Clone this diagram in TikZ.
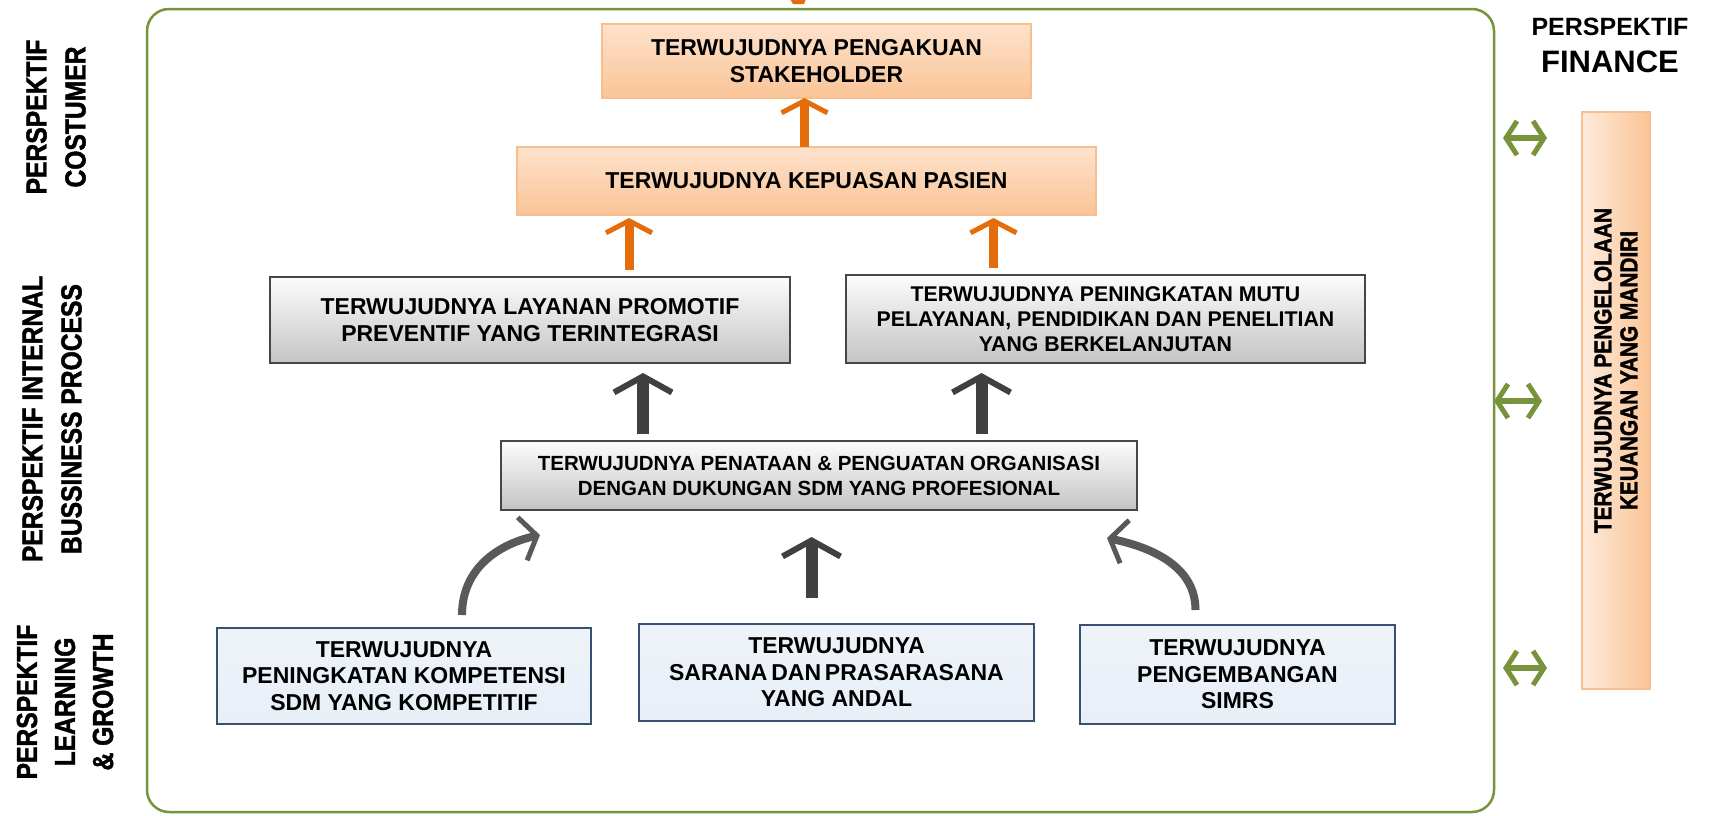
\documentclass[tikz,border=0pt]{standalone}
\usepackage{fontspec}
\setmainfont{Liberation Sans}
\newfontfamily\narrowfont[FakeStretch=0.85,FakeBold=1.6]{Liberation Sans Bold}
\usetikzlibrary{arrows.meta,calc}

\definecolor{frameGreen}{RGB}{119,147,60}
\definecolor{arrowOrange}{RGB}{228,108,10}
\definecolor{arrowDark}{RGB}{64,64,64}
\definecolor{arrowGrey}{RGB}{89,89,89}
\definecolor{orangeTop}{RGB}{253,226,204}
\definecolor{orangeBot}{RGB}{250,196,150}
\definecolor{orangeLine}{RGB}{247,190,142}
\definecolor{greyTop}{RGB}{252,252,252}
\definecolor{greyMid}{RGB}{238,238,238}
\definecolor{greyBot}{RGB}{196,196,196}
\definecolor{greyLine}{RGB}{70,70,70}
\definecolor{blueTop}{RGB}{238,243,249}
\definecolor{blueMid}{RGB}{220,230,242}
\definecolor{blueBot}{RGB}{232,239,247}
\definecolor{blueLine}{RGB}{56,80,115}

\begin{document}
\begin{tikzpicture}[x=1pt,y=-1pt,inner sep=0pt,outer sep=0pt,
orangebox/.style={draw=orangeLine,line width=1.2pt,top color=orangeTop,bottom color=orangeBot,align=center,font=\bfseries\fontsize{23}{27}\selectfont},
greybox/.style={draw=greyLine,line width=1.3pt,top color=greyTop,middle color=greyMid,bottom color=greyBot,align=center},
bluebox/.style={draw=blueLine,line width=1.3pt,top color=blueTop,middle color=blueMid,bottom color=blueBot,align=center,font=\bfseries\fontsize{23}{26.5}\selectfont},
sidelabel/.style={rotate=90,align=center,font=\narrowfont\fontsize{29}{39}\selectfont},
orangeup/.style={draw=arrowOrange,line width=9pt,-{Straight Barb[length=12pt,width=46pt,line width=5pt]}},
darkup/.style={draw=arrowDark,line width=12pt,-{Straight Barb[length=16pt,width=58pt,line width=6pt]}},
curvedup/.style={draw=arrowGrey,line width=8pt,-{Straight Barb[length=15pt,width=44pt,line width=5pt]}},
greenlink/.style={draw=frameGreen,line width=6pt,{Straight Barb[length=11pt,width=34pt,line width=5pt]}-{Straight Barb[length=11pt,width=34pt,line width=5pt]}}]
\useasboundingbox (0,0) rectangle (1710,815);

% frame and finance column
\draw (820.5,410.5) node[draw=frameGreen,line width=2.5pt,rounded corners=22pt,minimum width=1347,minimum height=803] (frame) {};
\draw (1616,400.5) node[draw=orangeLine,line width=1.2pt,left color=orangeTop!70!white,right color=orangeBot,minimum width=68,minimum height=577] (finance) {};
\draw ($(finance.center)+(0,-30)$) node[rotate=90,align=center,font=\narrowfont\fontsize{24.5}{26}\selectfont] (fintext) {TERWUJUDNYA PENGELOLAAN\\KEUANGAN YANG MANDIRI};
\draw (1610,45) node[align=center,font=\bfseries\fontsize{25}{37}\selectfont] (fintitle) {PERSPEKTIF\\\fontsize{31}{37}\selectfont FINANCE};

% perspective labels
\draw (56,117) node[sidelabel] (costumer) {PERSPEKTIF\\COSTUMER};
\draw (52,419) node[sidelabel] (internal) {PERSPEKTIF INTERNAL\\BUSSINESS PROCESS};
\draw (65,702) node[sidelabel,font=\narrowfont\fontsize{29}{38}\selectfont] (learning) {PERSPEKTIF\\LEARNING\\\& GROWTH};

% objectives
\draw (816.5,61) node[orangebox,minimum width=429,minimum height=74] (stake) {TERWUJUDNYA PENGAKUAN\\STAKEHOLDER};
\draw (806.5,181) node[orangebox,minimum width=579,minimum height=68] (puas) {TERWUJUDNYA KEPUASAN PASIEN};
\draw (530,320) node[greybox,minimum width=520,minimum height=86,font=\bfseries\fontsize{23}{27}\selectfont] (layanan) {TERWUJUDNYA LAYANAN PROMOTIF\\PREVENTIF YANG TERINTEGRASI};
\draw (1105.5,319) node[greybox,minimum width=519,minimum height=88,font=\bfseries\fontsize{21.3}{25}\selectfont] (mutu) {TERWUJUDNYA PENINGKATAN MUTU\\PELAYANAN, PENDIDIKAN DAN PENELITIAN\\YANG BERKELANJUTAN};
\draw (819,475.5) node[greybox,minimum width=636,minimum height=69,font=\bfseries\fontsize{20.5}{25}\selectfont] (tata) {TERWUJUDNYA PENATAAN \& PENGUATAN ORGANISASI\\DENGAN DUKUNGAN SDM YANG PROFESIONAL};
\draw (404,676) node[bluebox,minimum width=374,minimum height=96] (komp) {TERWUJUDNYA\\PENINGKATAN KOMPETENSI\\SDM YANG KOMPETITIF};
\draw (836.5,672.5) node[bluebox,minimum width=395,minimum height=97] (sarana) {TERWUJUDNYA\\SARANA\,DAN\,PRASARASANA\\YANG ANDAL};
\draw (1237.5,674.5) node[bluebox,minimum width=315,minimum height=99] (simrs) {TERWUJUDNYA\\PENGEMBANGAN\\SIMRS};

% arrow ends
\coordinate (stakein) at ($(stake.south)+(-12,0)$);
\coordinate (layout) at ($(layanan.north)+(99,-7)$);
\coordinate (mutuout) at ($(mutu.north)+(-112,-7)$);
\coordinate (layin) at ($(layanan.south)+(113,10)$);
\coordinate (mutuin) at ($(mutu.south)+(-124,10)$);
\coordinate (saraout) at ($(sarana.north)+(-25,-26)$);
\coordinate (kompout) at ($(komp.north)+(58,-13)$);
\coordinate (simrsout) at ($(simrs.north)+(-42,-15)$);

% arrows
\fill[arrowOrange] (790,-1) -- (806,-1) -- (804,4) -- (793,4) -- cycle;
\draw[orangeup] (stakein |- puas.north) -- (stakein);
\draw[orangeup] (layout) -- ($(layout |- puas.south)+(0,3)$);
\draw[orangeup] (mutuout) -- ($(mutuout |- puas.south)+(0,3)$);
\draw[darkup] ($(layin |- tata.north)+(0,-7)$) -- (layin);
\draw[darkup] ($(mutuin |- tata.north)+(0,-7)$) -- (mutuin);
\draw[darkup] (saraout) -- ($(saraout |- tata.south)+(0,27)$);
\draw[curvedup] (kompout) .. controls ($(kompout)+(0,-47)$) and ($(tata.south west)+(-2,34)$) .. ($(tata.south west)+(39,25)$);
\draw[curvedup] (simrsout) .. controls ($(simrsout)+(0,-47)$) and ($(tata.south east)+(8,36)$) .. ($(tata.south east)+(-30,28)$);

% links to finance
\draw[greenlink] ($(frame.east |- 0,138)+(9,0)$) -- ($(finance.west |- 0,138)+(-35,0)$);
\draw[greenlink] ($(frame.east |- 0,401)+(0,0)$) -- ($(finance.west |- 0,401)+(-40,0)$);
\draw[greenlink] ($(frame.east |- 0,668)+(9,0)$) -- ($(finance.west |- 0,668)+(-35,0)$);
\end{tikzpicture}
\end{document}
